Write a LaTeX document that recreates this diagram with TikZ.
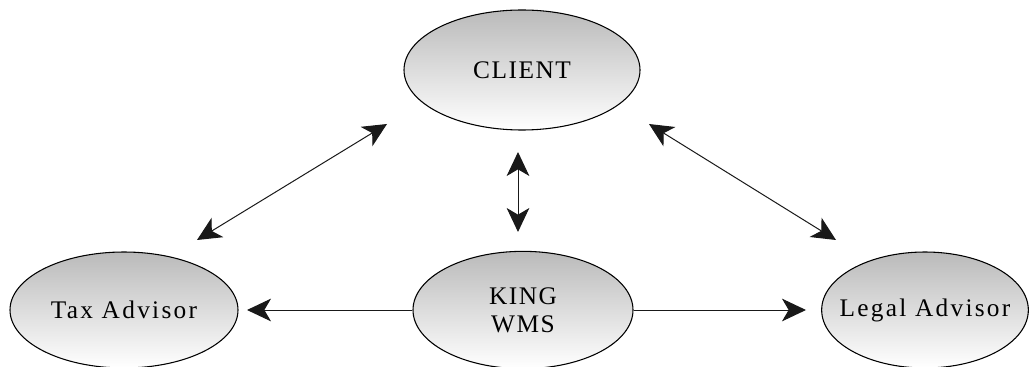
\documentclass[tikz,border=0pt]{standalone}
\usepackage{fontspec}
\setmainfont{Liberation Serif}[LetterSpace=6]
\newfontfamily\widefont{Liberation Serif}[LetterSpace=9]
\usetikzlibrary{shapes.geometric,arrows.meta}
\begin{document}
\begin{tikzpicture}[x=0.75pt,y=-0.75pt,
  >={Stealth[length=18pt,width=17pt,inset=5pt]},
  party/.style={ellipse,draw=black,line width=0.8pt,inner sep=0pt,
    top color=black!27,bottom color=white,
    font=\fontsize{19}{21}\selectfont,align=center},
  advisor/.style={party,inner xsep=-40pt,minimum height=87pt,
    font=\widefont\fontsize{19}{21}\selectfont},
  link/.style={line width=0.75pt,draw=black!90,<->}]
\useasboundingbox (0,0) rectangle (1029,367);

% the four parties
\node[party,minimum width=177pt,minimum height=90pt] (client) at (522,70) {CLIENT};
\node[party,minimum width=165pt,minimum height=88pt] (king) at (523,310) {KING\\WMS};
\node[advisor,minimum width=171pt] (tax) at (124,310) {Tax Advisor};
\node[advisor,minimum width=155pt] (legal) at (925,310) {Legal Advisor};

% free ends of the connectors
\coordinate (taxup)   at (197,240);
\coordinate (clientl) at (387,124);
\coordinate (clientr) at (649,124);
\coordinate (legalup) at (836,240);
\coordinate (clientb) at (518,152);
\coordinate (kingt)   at (518,232);
\coordinate (taxr)    at (247,310);
\coordinate (legall)  at (806,310);

\draw[link] (taxup) -- (clientl);
\draw[link] (clientr) -- (legalup);
\draw[link] (clientb) -- (kingt);
\draw[link,->] (king.west) -- (taxr);
\draw[link,->] (king.east) -- (legall);
\end{tikzpicture}
\end{document}
